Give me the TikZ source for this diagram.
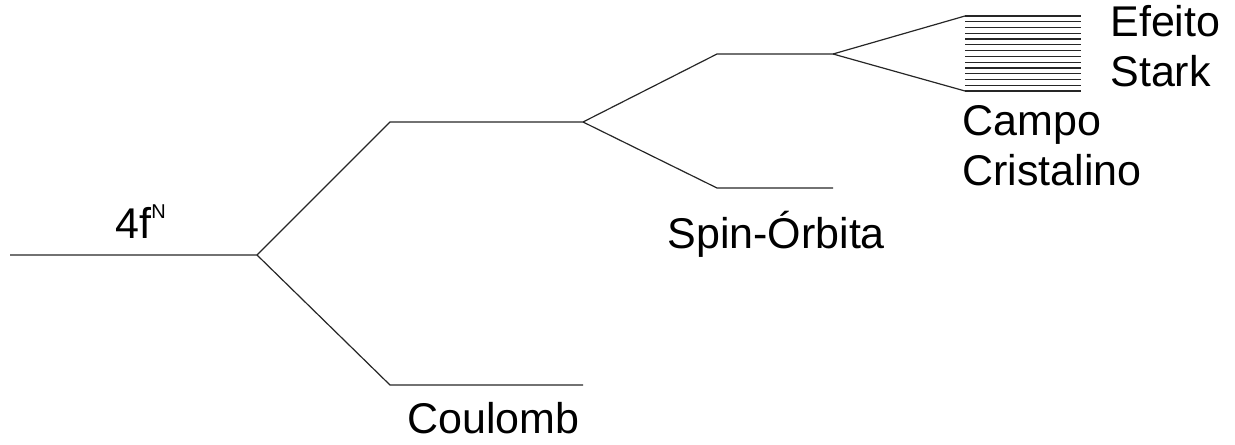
\documentclass[tikz,border=0pt]{standalone}
\usepackage{fontspec}
\setmainfont{Liberation Sans}
\usetikzlibrary{positioning}

\begin{document}
\begin{tikzpicture}[x=0.5pt, y=-0.5pt,
    level/.style={line width=0.6pt, black!85},
    lbl/.style={inner sep=0pt, anchor=base west, align=left,
                font=\fontsize{21.5}{25}\selectfont},
  ]
  \useasboundingbox (0,0) rectangle (1235,444);

  % level end points
  \coordinate (f0)  at (10,255);  \coordinate (f1)  at (257,255);
  \coordinate (c0a) at (390,122); \coordinate (c0b) at (583,122);
  \coordinate (c1a) at (390,385); \coordinate (c1b) at (583,385);
  \coordinate (s0a) at (717,54);  \coordinate (s0b) at (833,54);
  \coordinate (s1a) at (717,188); \coordinate (s1b) at (833,188);
  \coordinate (k0)  at (965,16);  \coordinate (k1)  at (965,91);

  \draw[level] (f0) -- (f1) -- (c0a) -- (c0b) -- (s0a) -- (s0b) -- (k0);
  \draw[level] (f1) -- (c1a) -- (c1b);
  \draw[level] (c0b) -- (s1a) -- (s1b);
  \draw[level] (s0b) -- (k1);
  % stark sublevels
  \foreach \i in {0,...,13}
    \draw[level] (965,{16+\i*75/13}) -- (1081,{16+\i*75/13});

  \node[lbl] (fN) at (115,238)
    {4f\raisebox{10pt}{\fontsize{10}{10}\selectfont N}};
  \node[lbl] (coul) at (407,433) {Coulomb};
  \node[lbl] (so)   at (667,248) {Spin-Órbita};
  \node[lbl] (cc)   at (962,185) {Campo\\Cristalino};
  \node[lbl] (st)   at (1110,87) {Efeito\\Stark};
\end{tikzpicture}
\end{document}
